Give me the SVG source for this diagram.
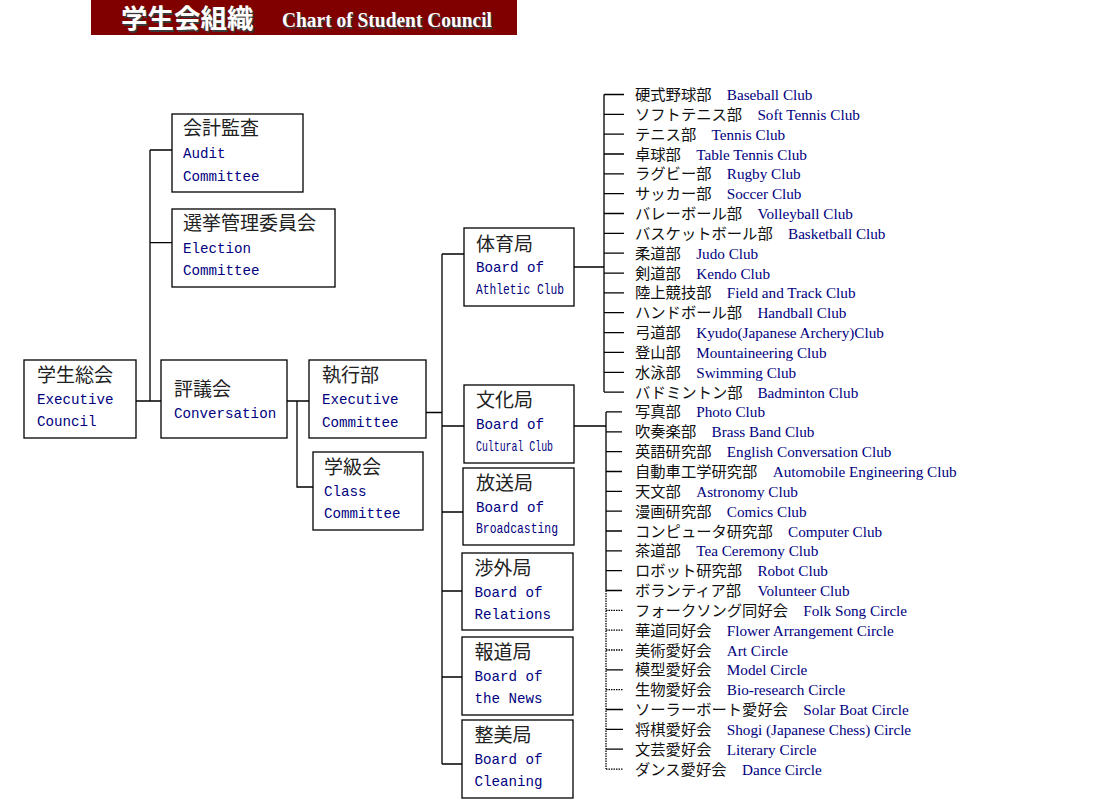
<svg xmlns="http://www.w3.org/2000/svg" width="1116" height="809" viewBox="0 0 1116 809">
<style>
.box{fill:#fff;stroke:#000;stroke-width:1.3}
.jb{font-family:"Noto Sans CJK JP","Noto Sans CJK SC",sans-serif;font-size:19px;fill:#222}
.eb{font-family:"Liberation Mono","DejaVu Sans Mono",monospace;font-size:14.2px;fill:#000080}
.cj{font-family:"Noto Sans CJK JP","Noto Sans CJK SC",sans-serif;font-size:15.3px;fill:#111}
.ce{font-family:"Liberation Serif",serif;font-size:15.2px;fill:#000080}
.ln{stroke:#000;stroke-width:1.3;fill:none}
.dt{stroke-dasharray:1.5 1}
.tj{font-family:"Noto Sans CJK JP","Noto Sans CJK SC",sans-serif;font-size:26.5px;font-weight:bold}
.te{font-family:"Liberation Serif",serif;font-size:20px;font-weight:bold}
</style>
<rect width="1116" height="809" fill="#fff"/>
<g id="title">
<rect x="91" y="0" width="426" height="35" fill="#800000"/>
<text class="tj" x="122.5" y="29.5" fill="#3a3a3a">学生会組織</text>
<text class="tj" x="121" y="28" fill="#fff">学生会組織</text>
<text class="te" x="283.5" y="28.5" fill="#3a3a3a" textLength="210" lengthAdjust="spacingAndGlyphs">Chart of Student Council</text>
<text class="te" x="282" y="27" fill="#fff" textLength="210" lengthAdjust="spacingAndGlyphs">Chart of Student Council</text>
</g>
<g id="connectors">
<path class="ln" d="M150,150V401M150,150H172M150,242.7H172M136,401H161"/>
<path class="ln" d="M287,401H309M297,401V487H313"/>
<path class="ln" d="M426,412.5H442M442,254V764M442,254H464M442,426H464M442,512H463M442,591H462M442,677H462M442,764H462"/>
<path class="ln" d="M574,267H604M604,94.5V392.1"/>
<path class="ln" d="M604,94.5H624M604,114.3H624M604,134.2H624M604,154H624M604,173.9H624M604,193.7H624M604,213.5H624M604,233.4H624M604,253.2H624M604,273.1H624M604,292.9H624M604,312.7H624M604,332.6H624M604,352.4H624M604,372.3H624M604,392.1H624"/>
<path class="ln" d="M574,426H606M606,411.9V590.5"/>
<path class="ln" d="M606,411.9H622M606,431.8H622M606,451.6H622M606,471.5H622M606,491.3H622M606,511.1H622M606,531H622M606,550.8H622M606,570.7H622M606,590.5H622"/>
<path class="ln dt" d="M606,590.5V769.1"/>
<path class="ln dt" d="M606,610.3H623M606,630.2H623M606,650H623M606,689.7H623M606,769.1H623"/>
<path class="ln" d="M606,669.9H623M606,709.5H623M606,729.4H623M606,749.2H623"/>
</g>
<g id="audit"><rect class="box" x="172" y="114" width="131" height="78"/><text class="jb" x="183" y="135">会計監査</text><text class="eb" x="183" y="158">Audit</text><text class="eb" x="183" y="180.5">Committee</text></g>
<g id="election"><rect class="box" x="172" y="209" width="163" height="78"/><text class="jb" x="183" y="230">選挙管理委員会</text><text class="eb" x="183" y="252.5">Election</text><text class="eb" x="183" y="274.5">Committee</text></g>
<g id="executive-council"><rect class="box" x="24" y="360" width="112" height="78"/><text class="jb" x="37" y="382">学生総会</text><text class="eb" x="37" y="404">Executive</text><text class="eb" x="37" y="426">Council</text></g>
<g id="conversation"><rect class="box" x="161" y="360" width="126" height="78"/><text class="jb" x="174" y="396">評議会</text><text class="eb" x="174" y="418">Conversation</text></g>
<g id="executive-committee"><rect class="box" x="309" y="360" width="117" height="78"/><text class="jb" x="322" y="382">執行部</text><text class="eb" x="322" y="404">Executive</text><text class="eb" x="322" y="426.5">Committee</text></g>
<g id="class-committee"><rect class="box" x="313" y="452" width="110" height="78"/><text class="jb" x="324" y="474">学級会</text><text class="eb" x="324" y="496">Class</text><text class="eb" x="324" y="518">Committee</text></g>
<g id="athletic"><rect class="box" x="464" y="228" width="110" height="78"/><text class="jb" x="476" y="250.5">体育局</text><text class="eb" x="476" y="272">Board of</text><text class="eb" x="476" y="294" textLength="88" lengthAdjust="spacingAndGlyphs">Athletic Club</text></g>
<g id="cultural"><rect class="box" x="464" y="385" width="110" height="78"/><text class="jb" x="476" y="407">文化局</text><text class="eb" x="476" y="429">Board of</text><text class="eb" x="476" y="451" textLength="77" lengthAdjust="spacingAndGlyphs">Cultural Club</text></g>
<g id="broadcasting"><rect class="box" x="463" y="468" width="111" height="77"/><text class="jb" x="476" y="490">放送局</text><text class="eb" x="476" y="512">Board of</text><text class="eb" x="476" y="533" textLength="82" lengthAdjust="spacingAndGlyphs">Broadcasting</text></g>
<g id="relations"><rect class="box" x="462" y="553" width="111" height="77"/><text class="jb" x="474.5" y="575">渉外局</text><text class="eb" x="474.5" y="597">Board of</text><text class="eb" x="474.5" y="619">Relations</text></g>
<g id="news"><rect class="box" x="462" y="637" width="111" height="78"/><text class="jb" x="474.5" y="659">報道局</text><text class="eb" x="474.5" y="681">Board of</text><text class="eb" x="474.5" y="703">the News</text></g>
<g id="cleaning"><rect class="box" x="462" y="720" width="111" height="78"/><text class="jb" x="474.5" y="742">整美局</text><text class="eb" x="474.5" y="764">Board of</text><text class="eb" x="474.5" y="786">Cleaning</text></g>
<g id="athletic-clubs">
<g id="c01"><text class="cj" x="635" y="100">硬式野球部</text><text class="ce" x="726.8" y="100">Baseball Club</text></g>
<g id="c02"><text class="cj" x="635" y="119.8">ソフトテニス部</text><text class="ce" x="757.4" y="119.8">Soft Tennis Club</text></g>
<g id="c03"><text class="cj" x="635" y="139.7">テニス部</text><text class="ce" x="711.5" y="139.7">Tennis Club</text></g>
<g id="c04"><text class="cj" x="635" y="159.5">卓球部</text><text class="ce" x="696.2" y="159.5">Table Tennis Club</text></g>
<g id="c05"><text class="cj" x="635" y="179.4">ラグビー部</text><text class="ce" x="726.8" y="179.4">Rugby Club</text></g>
<g id="c06"><text class="cj" x="635" y="199.2">サッカー部</text><text class="ce" x="726.8" y="199.2">Soccer Club</text></g>
<g id="c07"><text class="cj" x="635" y="219">バレーボール部</text><text class="ce" x="757.4" y="219">Volleyball Club</text></g>
<g id="c08"><text class="cj" x="635" y="238.9">バスケットボール部</text><text class="ce" x="788" y="238.9">Basketball Club</text></g>
<g id="c09"><text class="cj" x="635" y="258.7">柔道部</text><text class="ce" x="696.2" y="258.7">Judo Club</text></g>
<g id="c10"><text class="cj" x="635" y="278.6">剣道部</text><text class="ce" x="696.2" y="278.6">Kendo Club</text></g>
<g id="c11"><text class="cj" x="635" y="298.4">陸上競技部</text><text class="ce" x="726.8" y="298.4">Field and Track Club</text></g>
<g id="c12"><text class="cj" x="635" y="318.2">ハンドボール部</text><text class="ce" x="757.4" y="318.2">Handball Club</text></g>
<g id="c13"><text class="cj" x="635" y="338.1">弓道部</text><text class="ce" x="696.2" y="338.1">Kyudo(Japanese Archery)Club</text></g>
<g id="c14"><text class="cj" x="635" y="357.9">登山部</text><text class="ce" x="696.2" y="357.9">Mountaineering Club</text></g>
<g id="c15"><text class="cj" x="635" y="377.8">水泳部</text><text class="ce" x="696.2" y="377.8">Swimming Club</text></g>
<g id="c16"><text class="cj" x="635" y="397.6">バドミントン部</text><text class="ce" x="757.4" y="397.6">Badminton Club</text></g>
</g>
<g id="cultural-clubs">
<g id="d01"><text class="cj" x="635" y="417.4">写真部</text><text class="ce" x="696.2" y="417.4">Photo Club</text></g>
<g id="d02"><text class="cj" x="635" y="437.3">吹奏楽部</text><text class="ce" x="711.5" y="437.3">Brass Band Club</text></g>
<g id="d03"><text class="cj" x="635" y="457.1">英語研究部</text><text class="ce" x="726.8" y="457.1">English Conversation Club</text></g>
<g id="d04"><text class="cj" x="635" y="477">自動車工学研究部</text><text class="ce" x="772.7" y="477">Automobile Engineering Club</text></g>
<g id="d05"><text class="cj" x="635" y="496.8">天文部</text><text class="ce" x="696.2" y="496.8">Astronomy Club</text></g>
<g id="d06"><text class="cj" x="635" y="516.6">漫画研究部</text><text class="ce" x="726.8" y="516.6">Comics Club</text></g>
<g id="d07"><text class="cj" x="635" y="536.5">コンピュータ研究部</text><text class="ce" x="788" y="536.5">Computer Club</text></g>
<g id="d08"><text class="cj" x="635" y="556.3">茶道部</text><text class="ce" x="696.2" y="556.3">Tea Ceremony Club</text></g>
<g id="d09"><text class="cj" x="635" y="576.2">ロボット研究部</text><text class="ce" x="757.4" y="576.2">Robot Club</text></g>
<g id="d10"><text class="cj" x="635" y="596">ボランティア部</text><text class="ce" x="757.4" y="596">Volunteer Club</text></g>
<g id="e01"><text class="cj" x="635" y="615.8">フォークソング同好会</text><text class="ce" x="803.3" y="615.8">Folk Song Circle</text></g>
<g id="e02"><text class="cj" x="635" y="635.7">華道同好会</text><text class="ce" x="726.8" y="635.7">Flower Arrangement Circle</text></g>
<g id="e03"><text class="cj" x="635" y="655.5">美術愛好会</text><text class="ce" x="726.8" y="655.5">Art Circle</text></g>
<g id="e04"><text class="cj" x="635" y="675.4">模型愛好会</text><text class="ce" x="726.8" y="675.4">Model Circle</text></g>
<g id="e05"><text class="cj" x="635" y="695.2">生物愛好会</text><text class="ce" x="726.8" y="695.2">Bio-research Circle</text></g>
<g id="e06"><text class="cj" x="635" y="715">ソーラーボート愛好会</text><text class="ce" x="803.3" y="715">Solar Boat Circle</text></g>
<g id="e07"><text class="cj" x="635" y="734.9">将棋愛好会</text><text class="ce" x="726.8" y="734.9">Shogi (Japanese Chess) Circle</text></g>
<g id="e08"><text class="cj" x="635" y="754.7">文芸愛好会</text><text class="ce" x="726.8" y="754.7">Literary Circle</text></g>
<g id="e09"><text class="cj" x="635" y="774.6">ダンス愛好会</text><text class="ce" x="742.1" y="774.6">Dance Circle</text></g>
</g>
</svg>
